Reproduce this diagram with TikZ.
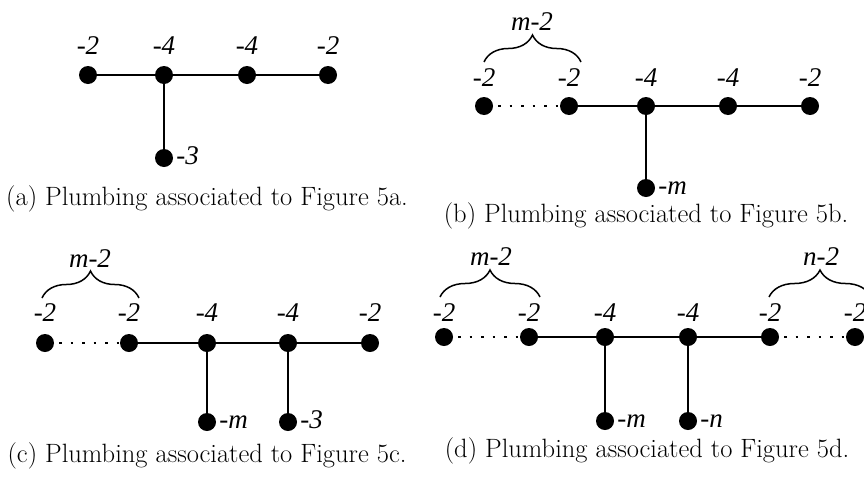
\documentclass[tikz,border=0pt]{standalone}
\usepackage{fontspec}
\newfontfamily\lblfont{Liberation Serif}
\usetikzlibrary{decorations.pathreplacing}

\tikzset{
  vtx/.style={circle,fill,inner sep=0pt,minimum size=18pt},
  lbl/.style={font=\fontsize{27}{27}\lblfont\itshape,inner sep=0pt},
  side/.style={lbl,anchor=base west,label distance=3pt,yshift=-6pt},
  edge/.style={line width=2.6pt},
  dotedge/.style={line width=2.5pt,dash pattern=on 2.5pt off 9pt,dash phase=-5pt},
  brc/.style={line width=1.5pt,decorate,decoration={brace,amplitude=27pt}},
  captxt/.style={font=\fontsize{26.5}{31}\selectfont,inner sep=0pt,anchor=base},
}

\begin{document}
\begin{tikzpicture}[x=1pt,y=-1pt]
\useasboundingbox (0,0) rectangle (864,477);

% (a)
\begin{scope}[label distance=11pt]
\node[vtx,label={[lbl]above:-2}] (a1) at (88,75) {};
\node[vtx,label={[lbl]above:-4}] (a2) at (164,75) {};
\node[vtx,label={[lbl]above:-4}] (a3) at (247,75) {};
\node[vtx,label={[lbl]above:-2}] (a4) at (328,75) {};
\node[vtx,label={[side]right:-3}] (a5) at (164,158) {};
\draw[edge] (a1) -- (a2) -- (a3) -- (a4);
\draw[edge] (a2) -- (a5);
\node[captxt] (capa) at (207,205) {(a) Plumbing associated to Figure 5a.};
\end{scope}

% (b)
\begin{scope}[label distance=10pt]
\node[vtx,label={[lbl]above:-2}] (b1) at (484,106) {};
\node[vtx,label={[lbl]above:-2}] (b2) at (569,106) {};
\node[vtx,label={[lbl]above:-4}] (b3) at (646,106) {};
\node[vtx,label={[lbl]above:-4}] (b4) at (728,106) {};
\node[vtx,label={[lbl]above:-2}] (b5) at (810,106) {};
\node[vtx,label={[side]right:-m}] (b6) at (646,188) {};
\draw[dotedge] (b1) -- (b2);
\draw[edge] (b2) -- (b3) -- (b4) -- (b5);
\draw[edge] (b3) -- (b6);
\coordinate (bl) at (484,62);
\coordinate (br) at (581,62);
\draw[brc] (bl) -- (br);
\node[lbl,anchor=base] (bm) at (532,30) {m-2};
\node[captxt] (capb) at (646,222) {(b) Plumbing associated to Figure 5b.};
\end{scope}

% (c)
\begin{scope}[label distance=12pt]
\node[vtx,label={[lbl]above:-2}] (c1) at (45,343) {};
\node[vtx,label={[lbl]above:-2}] (c2) at (129,343) {};
\node[vtx,label={[lbl]above:-4}] (c3) at (207,343) {};
\node[vtx,label={[lbl]above:-4}] (c4) at (288,343) {};
\node[vtx,label={[lbl]above:-2}] (c5) at (370,343) {};
\node[vtx,label={[side]right:-m}] (c6) at (207,422) {};
\node[vtx,label={[side]right:-3}] (c7) at (288,422) {};
\draw[dotedge] (c1) -- (c2);
\draw[edge] (c2) -- (c3) -- (c4) -- (c5);
\draw[edge] (c3) -- (c6);
\draw[edge] (c4) -- (c7);
\coordinate (cl) at (42,298);
\coordinate (cr) at (139,298);
\draw[brc] (cl) -- (cr);
\node[lbl,anchor=base] (cm) at (90,267) {m-2};
\node[captxt] (capc) at (207,462) {(c) Plumbing associated to Figure 5c.};
\end{scope}

% (d)
\begin{scope}[label distance=6pt]
\node[vtx,label={[lbl]above:-2}] (d1) at (444,337) {};
\node[vtx,label={[lbl]above:-2}] (d2) at (529,337) {};
\node[vtx,label={[lbl]above:-4}] (d3) at (605,337) {};
\node[vtx,label={[lbl]above:-4}] (d4) at (688,337) {};
\node[vtx,label={[lbl]above:-2}] (d5) at (770,337) {};
\node[vtx,label={[lbl]above:-2}] (d6) at (855,337) {};
\node[vtx,label={[side]right:-m}] (d7) at (605,421) {};
\node[vtx,label={[side]right:-n}] (d8) at (688,421) {};
\draw[dotedge] (d1) -- (d2);
\draw[edge] (d2) -- (d3) -- (d4) -- (d5);
\draw[dotedge] (d5) -- (d6);
\draw[edge] (d3) -- (d7);
\draw[edge] (d4) -- (d8);
\coordinate (dl) at (440,297);
\coordinate (dr) at (540,297);
\draw[brc] (dl) -- (dr);
\node[lbl,anchor=base] (dm) at (491,265) {m-2};
\coordinate (el) at (769,297);
\coordinate (er) at (871,297);
\draw[brc] (el) -- (er);
\node[lbl,anchor=base] (dn) at (821,265) {n-2};
\node[captxt] (capd) at (647,457) {(d) Plumbing associated to Figure 5d.};
\end{scope}
\end{tikzpicture}
\end{document}
